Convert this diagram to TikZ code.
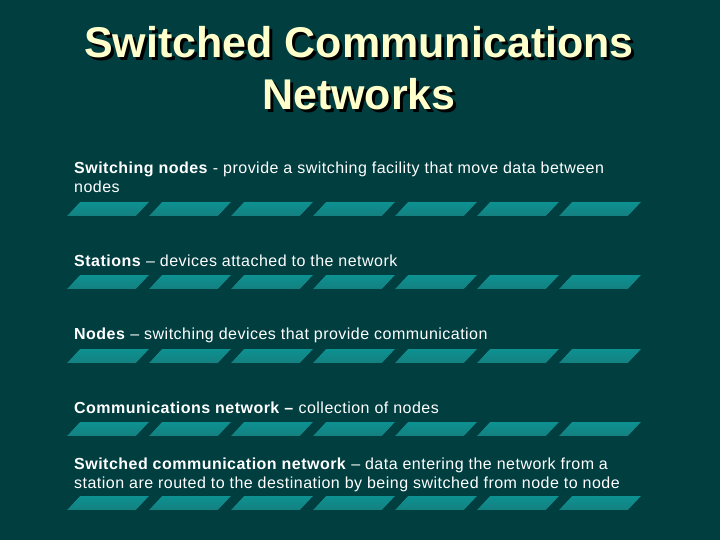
\documentclass[tikz,border=0pt]{standalone}
\usepackage{fontspec}
\setmainfont{Liberation Sans}
\begin{document}
\begin{tikzpicture}[x=1pt,y=-1pt,
  tl/.style={text=white,font=\fontsize{16}{19}\selectfont\addfontfeature{LetterSpace=3},anchor=north west,align=left,inner sep=0pt},
  bar/.style={top color=teal!70!cyan!80!black,bottom color=teal!85!black,draw=none}]
\definecolor{bg}{RGB}{0,62,64}
\definecolor{ttl}{RGB}{255,255,204}
\definecolor{teal}{RGB}{24,150,150}
\fill[bg] (0,0) rectangle (720,540);
\useasboundingbox (0,0) rectangle (720,540);
\node[text=black,font=\bfseries\fontsize{43}{52}\selectfont,align=center] (shadow) at (362,71) {Switched Communications\\Networks};
\node[text=ttl,font=\bfseries\fontsize{43}{52}\selectfont,align=center] (title) at (359,68) {Switched Communications\\Networks};
\node[tl] (t1) at (74,162) {\textbf{Switching nodes} - provide a switching facility that move data between\\nodes};
\node[tl] (t2) at (74,255) {\textbf{Stations} -- devices attached to the network};
\node[tl] (t3) at (74,328) {\textbf{Nodes} -- switching devices that provide communication};
\node[tl] (t4) at (74,402) {\textbf{Communications network --} collection of nodes};
\node[tl] (t5) at (74,458) {\textbf{Switched communication network} -- data entering the network from a\\station are routed to the destination by being switched from node to node};
\foreach \y in {202,275,349,422,496}
  \foreach \i in {0,...,6}
    \fill[bar] ({67+82*\i},\y+14) -- ({80+82*\i},\y) -- ({149+82*\i},\y) -- ({136+82*\i},\y+14) -- cycle;
\end{tikzpicture}
\end{document}
